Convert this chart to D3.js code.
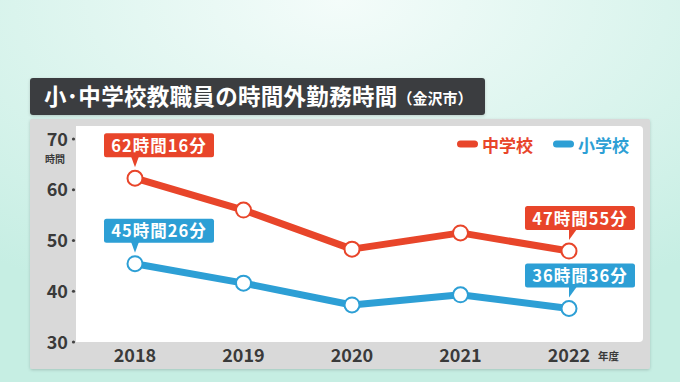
<!DOCTYPE html>
<html>
<head>
<meta charset="utf-8">
<script src="https://cdn.jsdelivr.net/npm/d3@7"></script>
<style>
  html, body { margin: 0; padding: 0; }
  body { width: 680px; height: 382px; overflow: hidden; }
  text { font-family: "Noto Sans CJK JP", "Noto Sans", sans-serif; }
</style>
</head>
<body>
<script>
// data (hours, decimal)
const years = ["2018", "2019", "2020", "2021", "2022"];
const juniorHigh = [62.27, 56.0, 48.3, 51.5, 47.92];   // 中学校
const elementary = [45.43, 41.6, 37.3, 39.3, 36.6];    // 小学校
const yTicks = [30, 40, 50, 60, 70];
const callouts = [
  { series: 0, idx: 0, text: "62時間16分" },
  { series: 1, idx: 0, text: "45時間26分" },
  { series: 0, idx: 4, text: "47時間55分" },
  { series: 1, idx: 4, text: "36時間36分" }
];

const width = 680, height = 382;
const red = "#e8452a", blue = "#2d9fd5";

const svg = d3.select("body").append("svg")
  .attr("width", width).attr("height", height);

// background
const defs = svg.append("defs");
const bg = defs.append("radialGradient").attr("id", "bg")
  .attr("cx", "50%").attr("cy", "0%").attr("r", "85%");
bg.append("stop").attr("offset", "0%").attr("stop-color", "#f4fcfa");
bg.append("stop").attr("offset", "100%").attr("stop-color", "#c6eee3");
svg.append("rect").attr("width", width).attr("height", height).attr("fill", "url(#bg)");

const shadow = defs.append("filter").attr("id", "sh").attr("x", "-5%").attr("y", "-5%").attr("width", "110%").attr("height", "115%");
shadow.append("feDropShadow").attr("dx", 0).attr("dy", 1).attr("stdDeviation", 1.5).attr("flood-opacity", 0.18);

// title
svg.append("rect").attr("x", 30).attr("y", 78).attr("width", 455).attr("height", 37)
  .attr("rx", 3).attr("fill", "#3b3e40").attr("filter", "url(#sh)");
const title = svg.append("text").attr("x", 44).attr("y", 105)
  .attr("fill", "#fff").attr("font-weight", "bold").attr("font-size", 22.5);
title.append("tspan").attr("letter-spacing", 0.3).text("小･中学校教職員の時間外勤務時間");
title.append("tspan").attr("font-size", 15).attr("dy", -1).text("（金沢市）");

// panel
svg.append("rect").attr("x", 30).attr("y", 119).attr("width", 620).attr("height", 250)
  .attr("rx", 2).attr("fill", "#d9d9d9").attr("filter", "url(#sh)");
const plot = { x0: 76, x1: 643, y0: 126, y1: 342 };
svg.append("path")
  .attr("d", `M${plot.x0},${plot.y0}H${plot.x1 - 4}Q${plot.x1},${plot.y0} ${plot.x1},${plot.y0 + 4}V${plot.y1 - 4}Q${plot.x1},${plot.y1} ${plot.x1 - 4},${plot.y1}H${plot.x0}Z`)
  .attr("fill", "#fff");

const x = d3.scalePoint().domain(years).range([135, 569]);
const y = d3.scaleLinear().domain([30, 70]).range([342, 139]);

// y axis
const yAx = svg.append("g");
yTicks.forEach(t => {
  yAx.append("circle").attr("cx", 73.5).attr("cy", y(t)).attr("r", 1.6).attr("fill", "#444");
  yAx.append("text").attr("x", 68).attr("y", y(t) + 6.5).attr("text-anchor", "end")
    .attr("font-size", 18).attr("font-weight", "bold").attr("fill", "#3a3a3a").text(t);
});
yAx.append("text").attr("x", 55).attr("y", 163).attr("text-anchor", "middle")
  .attr("font-size", 10).attr("font-weight", "bold").attr("fill", "#3a3a3a").text("時間");

// x axis
years.forEach(yr => {
  svg.append("text").attr("x", x(yr)).attr("y", 362).attr("text-anchor", "middle")
    .attr("font-size", 18).attr("font-weight", "bold").attr("fill", "#3a3a3a").text(yr);
});
svg.append("text").attr("x", 598).attr("y", 360).attr("font-size", 10.5)
  .attr("font-weight", "bold").attr("fill", "#3a3a3a").text("年度");

// legend
const legend = [{ name: "中学校", c: red, x: 457 }, { name: "小学校", c: blue, x: 553 }];
legend.forEach(l => {
  svg.append("rect").attr("x", l.x).attr("y", 140.5).attr("width", 21).attr("height", 7)
    .attr("rx", 3.5).attr("fill", l.c);
  svg.append("text").attr("x", l.x + 25).attr("y", 151.5).attr("font-size", 17)
    .attr("font-weight", "bold").attr("fill", l.c).text(l.name);
});

// lines
const seriesList = [{ v: juniorHigh, c: red }, { v: elementary, c: blue }];
const line = d3.line().x((d, i) => x(years[i])).y(d => y(d));
seriesList.forEach(s => {
  svg.append("path").attr("d", line(s.v)).attr("fill", "none")
    .attr("stroke", s.c).attr("stroke-width", 7).attr("stroke-linejoin", "round");
});
seriesList.forEach(s => {
  svg.selectAll(null).data(s.v).enter().append("circle")
    .attr("cx", (d, i) => x(years[i])).attr("cy", d => y(d)).attr("r", 7.5)
    .attr("fill", "#fff").attr("stroke", s.c).attr("stroke-width", 2);
});

// callouts
callouts.forEach(c => {
  const s = seriesList[c.series];
  const px = x(years[c.idx]), py = y(s.v[c.idx]);
  const w = 110, h = 24;
  const bx = c.idx === 0 ? px - 31 : px - 44;
  const by = py - 21 - h;
  const g = svg.append("g");
  g.append("rect").attr("x", bx).attr("y", by).attr("width", w).attr("height", h)
    .attr("rx", 2.5).attr("fill", s.c);
  const tx = c.idx === 0 ? px : px + 4;
  g.append("path").attr("d", `M${tx - 4},${by + h - 1}L${tx + 4},${by + h - 1}L${px},${py - 11}Z`)
    .attr("fill", s.c);
  g.append("text").attr("x", bx + w / 2).attr("y", by + 18.5).attr("text-anchor", "middle")
    .attr("font-size", 16.5).attr("font-weight", "bold").attr("fill", "#fff")
    .attr("letter-spacing", 1).text(c.text);
});
</script>
</body>
</html>
